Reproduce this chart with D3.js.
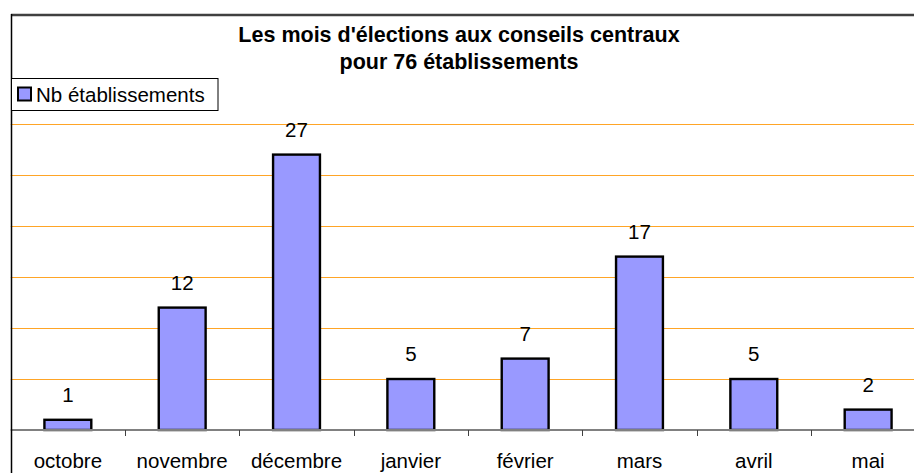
<!DOCTYPE html>
<html>
<head>
<meta charset="utf-8">
<script src="https://cdn.jsdelivr.net/npm/d3@7"></script>
<style>
  html, body { margin: 0; padding: 0; background: #fff; }
  svg { display: block; font-family: "Liberation Sans", Arial, sans-serif; }
</style>
</head>
<body>
<svg id="chart" width="914" height="473"></svg>
<script>
const categories = ["octobre", "novembre", "décembre", "janvier", "février", "mars", "avril", "mai"];
const values = [1, 12, 27, 5, 7, 17, 5, 2];
const gridTicks = [5, 10, 15, 20, 25, 30];
const titleLines = ["Les mois d'élections aux conseils centraux", "pour 76 établissements"];
const seriesName = "Nb établissements";

const svg = d3.select("#chart");
const W = 914, H = 473;
const plot = { left: 10.7, right: 925.3, top: 124, bottom: 430 };

const x = d3.scaleBand().domain(categories).range([plot.left, plot.right]).paddingInner(0).paddingOuter(0);
const y = d3.scaleLinear().domain([0, 30]).range([plot.bottom, plot.top]);

// gridlines
svg.append("g").selectAll("line").data(gridTicks).join("line")
  .attr("x1", plot.left).attr("x2", W)
  .attr("y1", d => Math.round(y(d)) + 0.5).attr("y2", d => Math.round(y(d)) + 0.5)
  .attr("stroke", "#FFA526").attr("stroke-width", 1.2);

// bars
const barW = x.bandwidth() * 0.41;
svg.append("g").selectAll("rect").data(values).join("rect")
  .attr("x", (d, i) => x(categories[i]) + (x.bandwidth() - barW) / 2)
  .attr("y", d => y(d))
  .attr("width", barW)
  .attr("height", d => y(0) - y(d))
  .attr("fill", "#9999FF")
  .attr("stroke", "#000").attr("stroke-width", 2.4);

// x axis
const xAxis = d3.axisBottom(x).tickSize(0).tickFormat(d => d);
const gx = svg.append("g").attr("transform", `translate(0,${plot.bottom})`).call(xAxis);
gx.select(".domain").remove();
gx.selectAll("text").attr("dy", null).attr("y", 38)
  .attr("font-size", "20.5px").attr("font-family", "Liberation Sans, Arial, sans-serif").attr("fill", "#000");
svg.append("line").attr("x1", plot.left).attr("x2", W)
  .attr("y1", plot.bottom).attr("y2", plot.bottom)
  .attr("stroke", "#808080").attr("stroke-width", 2);
// boundary ticks
svg.append("g").selectAll("line").data(categories.slice(1)).join("line")
  .attr("x1", d => Math.round(x(d)) + 0.5).attr("x2", d => Math.round(x(d)) + 0.5)
  .attr("y1", plot.bottom).attr("y2", plot.bottom + 6)
  .attr("stroke", "#404040").attr("stroke-width", 1);

// value labels
svg.append("g").selectAll("text").data(values).join("text")
  .attr("x", (d, i) => x(categories[i]) + x.bandwidth() / 2)
  .attr("y", d => y(d) - 18)
  .attr("text-anchor", "middle")
  .attr("font-size", "20.5px").attr("fill", "#000")
  .text(d => d);

// chart border
svg.append("line").attr("x1", 11).attr("x2", W).attr("y1", 15).attr("y2", 15)
  .attr("stroke", "#404040").attr("stroke-width", 2.5);
svg.append("line").attr("x1", 11.5).attr("x2", 11.5).attr("y1", 14).attr("y2", H)
  .attr("stroke", "#000").attr("stroke-width", 1.5);

// title
svg.append("g").selectAll("text").data(titleLines).join("text")
  .attr("x", 459).attr("y", (d, i) => 42 + i * 27)
  .attr("text-anchor", "middle")
  .attr("font-size", "21.5px").attr("font-weight", "bold").attr("fill", "#000")
  .text(d => d);

// legend
const lg = svg.append("g");
lg.append("rect").attr("x", 11.5).attr("y", 78.5).attr("width", 206.5).attr("height", 32)
  .attr("fill", "#fff").attr("stroke", "#000").attr("stroke-width", 1);
lg.append("rect").attr("x", 18).attr("y", 87.5).attr("width", 13).attr("height", 13)
  .attr("fill", "#9999FF").attr("stroke", "#000").attr("stroke-width", 2);
lg.append("text").attr("x", 36).attr("y", 101.5)
  .attr("font-size", "20.5px").attr("fill", "#000").text(seriesName);
</script>
</body>
</html>
